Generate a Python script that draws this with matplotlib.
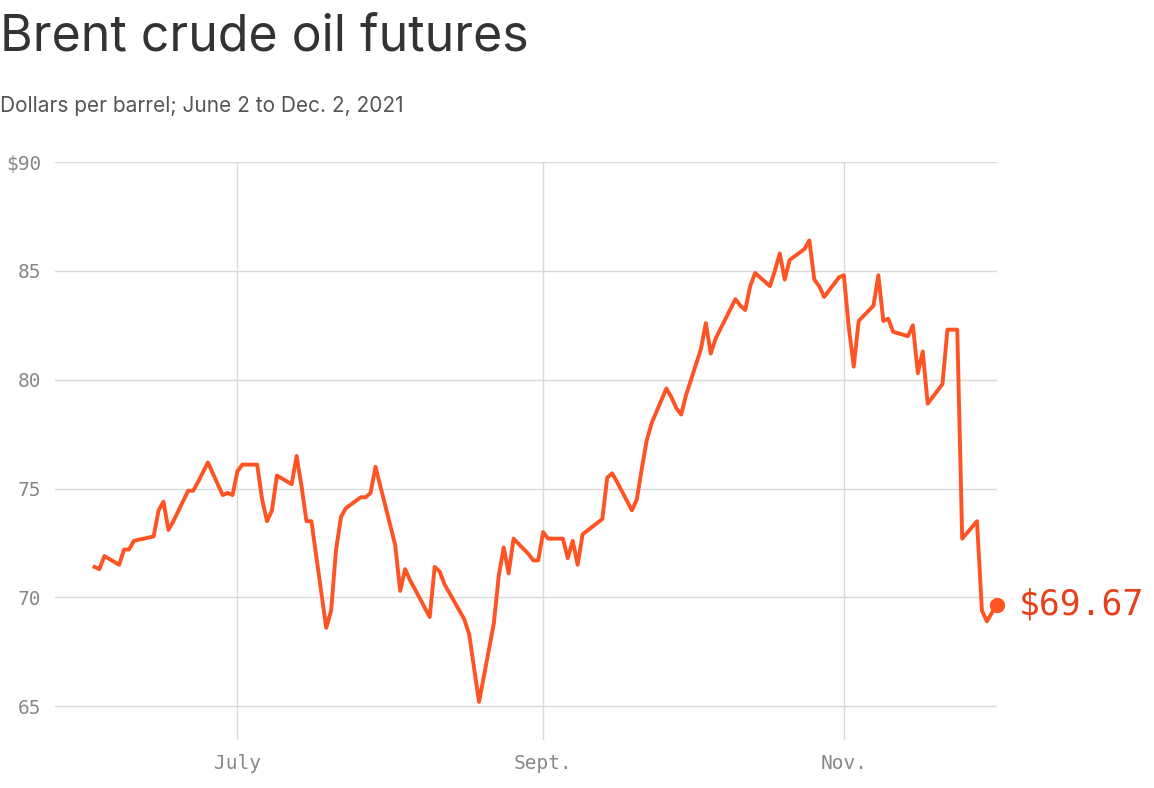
import matplotlib.pyplot as plt
import matplotlib.dates as mdates
import pandas as pd

# Brent Schlusskurse
dates = [
    "2021-06-02", "2021-06-03", "2021-06-04", "2021-06-07", "2021-06-08", "2021-06-09",
    "2021-06-10", "2021-06-14", "2021-06-15", "2021-06-16", "2021-06-17", "2021-06-18",
    "2021-06-21", "2021-06-22", "2021-06-23", "2021-06-25", "2021-06-28", "2021-06-29",
    "2021-06-30", "2021-07-01", "2021-07-02", "2021-07-05", "2021-07-06", "2021-07-07",
    "2021-07-08", "2021-07-09", "2021-07-12", "2021-07-13", "2021-07-14", "2021-07-15",
    "2021-07-16", "2021-07-19", "2021-07-20", "2021-07-21", "2021-07-22", "2021-07-23",
    "2021-07-26", "2021-07-27", "2021-07-28", "2021-07-29", "2021-08-02", "2021-08-03",
    "2021-08-04", "2021-08-05", "2021-08-09", "2021-08-10", "2021-08-11", "2021-08-12",
    "2021-08-16", "2021-08-17", "2021-08-19", "2021-08-22", "2021-08-23", "2021-08-24",
    "2021-08-25", "2021-08-26", "2021-08-29", "2021-08-30", "2021-08-31", "2021-09-01",
    "2021-09-02", "2021-09-05", "2021-09-06", "2021-09-07", "2021-09-08", "2021-09-09",
    "2021-09-13", "2021-09-14", "2021-09-15", "2021-09-16", "2021-09-19", "2021-09-20",
    "2021-09-21", "2021-09-22", "2021-09-23", "2021-09-26", "2021-09-27", "2021-09-28",
    "2021-09-29", "2021-09-30", "2021-10-03", "2021-10-04", "2021-10-05", "2021-10-06",
    "2021-10-10", "2021-10-11", "2021-10-12", "2021-10-13", "2021-10-14", "2021-10-17",
    "2021-10-18", "2021-10-19", "2021-10-20", "2021-10-21", "2021-10-24", "2021-10-25",
    "2021-10-26", "2021-10-27", "2021-10-28", "2021-10-31", "2021-11-01", "2021-11-02",
    "2021-11-03", "2021-11-04", "2021-11-07", "2021-11-08", "2021-11-09", "2021-11-10",
    "2021-11-11", "2021-11-14", "2021-11-15", "2021-11-16", "2021-11-17", "2021-11-18",
    "2021-11-21", "2021-11-22", "2021-11-24", "2021-11-25", "2021-11-28", "2021-11-29",
    "2021-11-30", "2021-12-02",
]
prices = [
    71.4, 71.3, 71.9, 71.5, 72.2, 72.2, 72.6, 72.8, 74.0, 74.4, 73.1, 73.5,
    74.9, 74.9, 75.3, 76.2, 74.7, 74.8, 74.7, 75.8, 76.1, 76.1, 74.5, 73.5,
    74.0, 75.6, 75.2, 76.5, 75.1, 73.5, 73.5, 68.6, 69.4, 72.2, 73.7, 74.1,
    74.6, 74.6, 74.8, 76.0, 72.4, 70.3, 71.3, 70.8, 69.1, 71.4, 71.2, 70.6,
    69.0, 68.3, 65.2, 68.8, 71.0, 72.3, 71.1, 72.7, 72.0, 71.7, 71.7, 73.0,
    72.7, 72.7, 71.8, 72.6, 71.5, 72.9, 73.6, 75.5, 75.7, 75.3, 74.0, 74.5,
    75.9, 77.2, 78.0, 79.6, 79.2, 78.7, 78.4, 79.3, 81.4, 82.6, 81.2, 81.9,
    83.7, 83.4, 83.2, 84.3, 84.9, 84.3, 85.0, 85.8, 84.6, 85.5, 86.0, 86.4,
    84.6, 84.3, 83.8, 84.7, 84.8, 82.4, 80.6, 82.7, 83.4, 84.8, 82.7, 82.8,
    82.2, 82.0, 82.5, 80.3, 81.3, 78.9, 79.8, 82.3, 82.3, 72.7, 73.5, 69.4,
    68.9, 69.67,
]
y_ticks = [65, 70, 75, 80, 85, 90]
y_labels = ["65", "70", "75", "80", "85", "$90"]
x_ticks = ["2021-07-01", "2021-09-01", "2021-11-01"]
x_labels = ["July", "Sept.", "Nov."]

line_col = "#ff5323"
fig = plt.figure(figsize=(11.54, 7.88), dpi=100)
ax = fig.add_axes([0.0477, 0.0609, 0.816, 0.7335])

d = pd.to_datetime(dates)
ax.plot(d, prices, color=line_col, lw=2.8, solid_joinstyle="round", zorder=3)
ax.plot(d[-1], prices[-1], "o", color=line_col, ms=10, zorder=4, clip_on=False)
ax.annotate(f"${prices[-1]:.2f}", (d[-1], prices[-1]), xytext=(16, 0),
            textcoords="offset points", va="center", ha="left",
            fontsize=25, family="DejaVu Sans Mono", color="#e8401a",
            annotation_clip=False)

ax.set_xlim(pd.Timestamp("2021-05-25"), pd.Timestamp("2021-12-02"))
ax.set_ylim(63.45, 90)
ax.set_yticks(y_ticks)
ax.set_yticklabels(y_labels, family="DejaVu Sans Mono", fontsize=14, color="#888888")
ax.set_xticks(pd.to_datetime(x_ticks))
ax.set_xticklabels(x_labels, family="DejaVu Sans Mono", fontsize=14, color="#888888")
ax.tick_params(length=0, pad=10)
ax.grid(True, color="#d9d9d9", lw=1)
for s in ax.spines.values():
    s.set_visible(False)

fig.text(0.0, 0.953, "Brent crude oil futures", fontsize=36, color="#333333",
         family="Inter", va="center")
fig.text(0.0, 0.866, "Dollars per barrel; June 2 to Dec. 2, 2021", fontsize=15,
         color="#555555", family="Inter", va="center")

plt.savefig("out.png", dpi=100)
